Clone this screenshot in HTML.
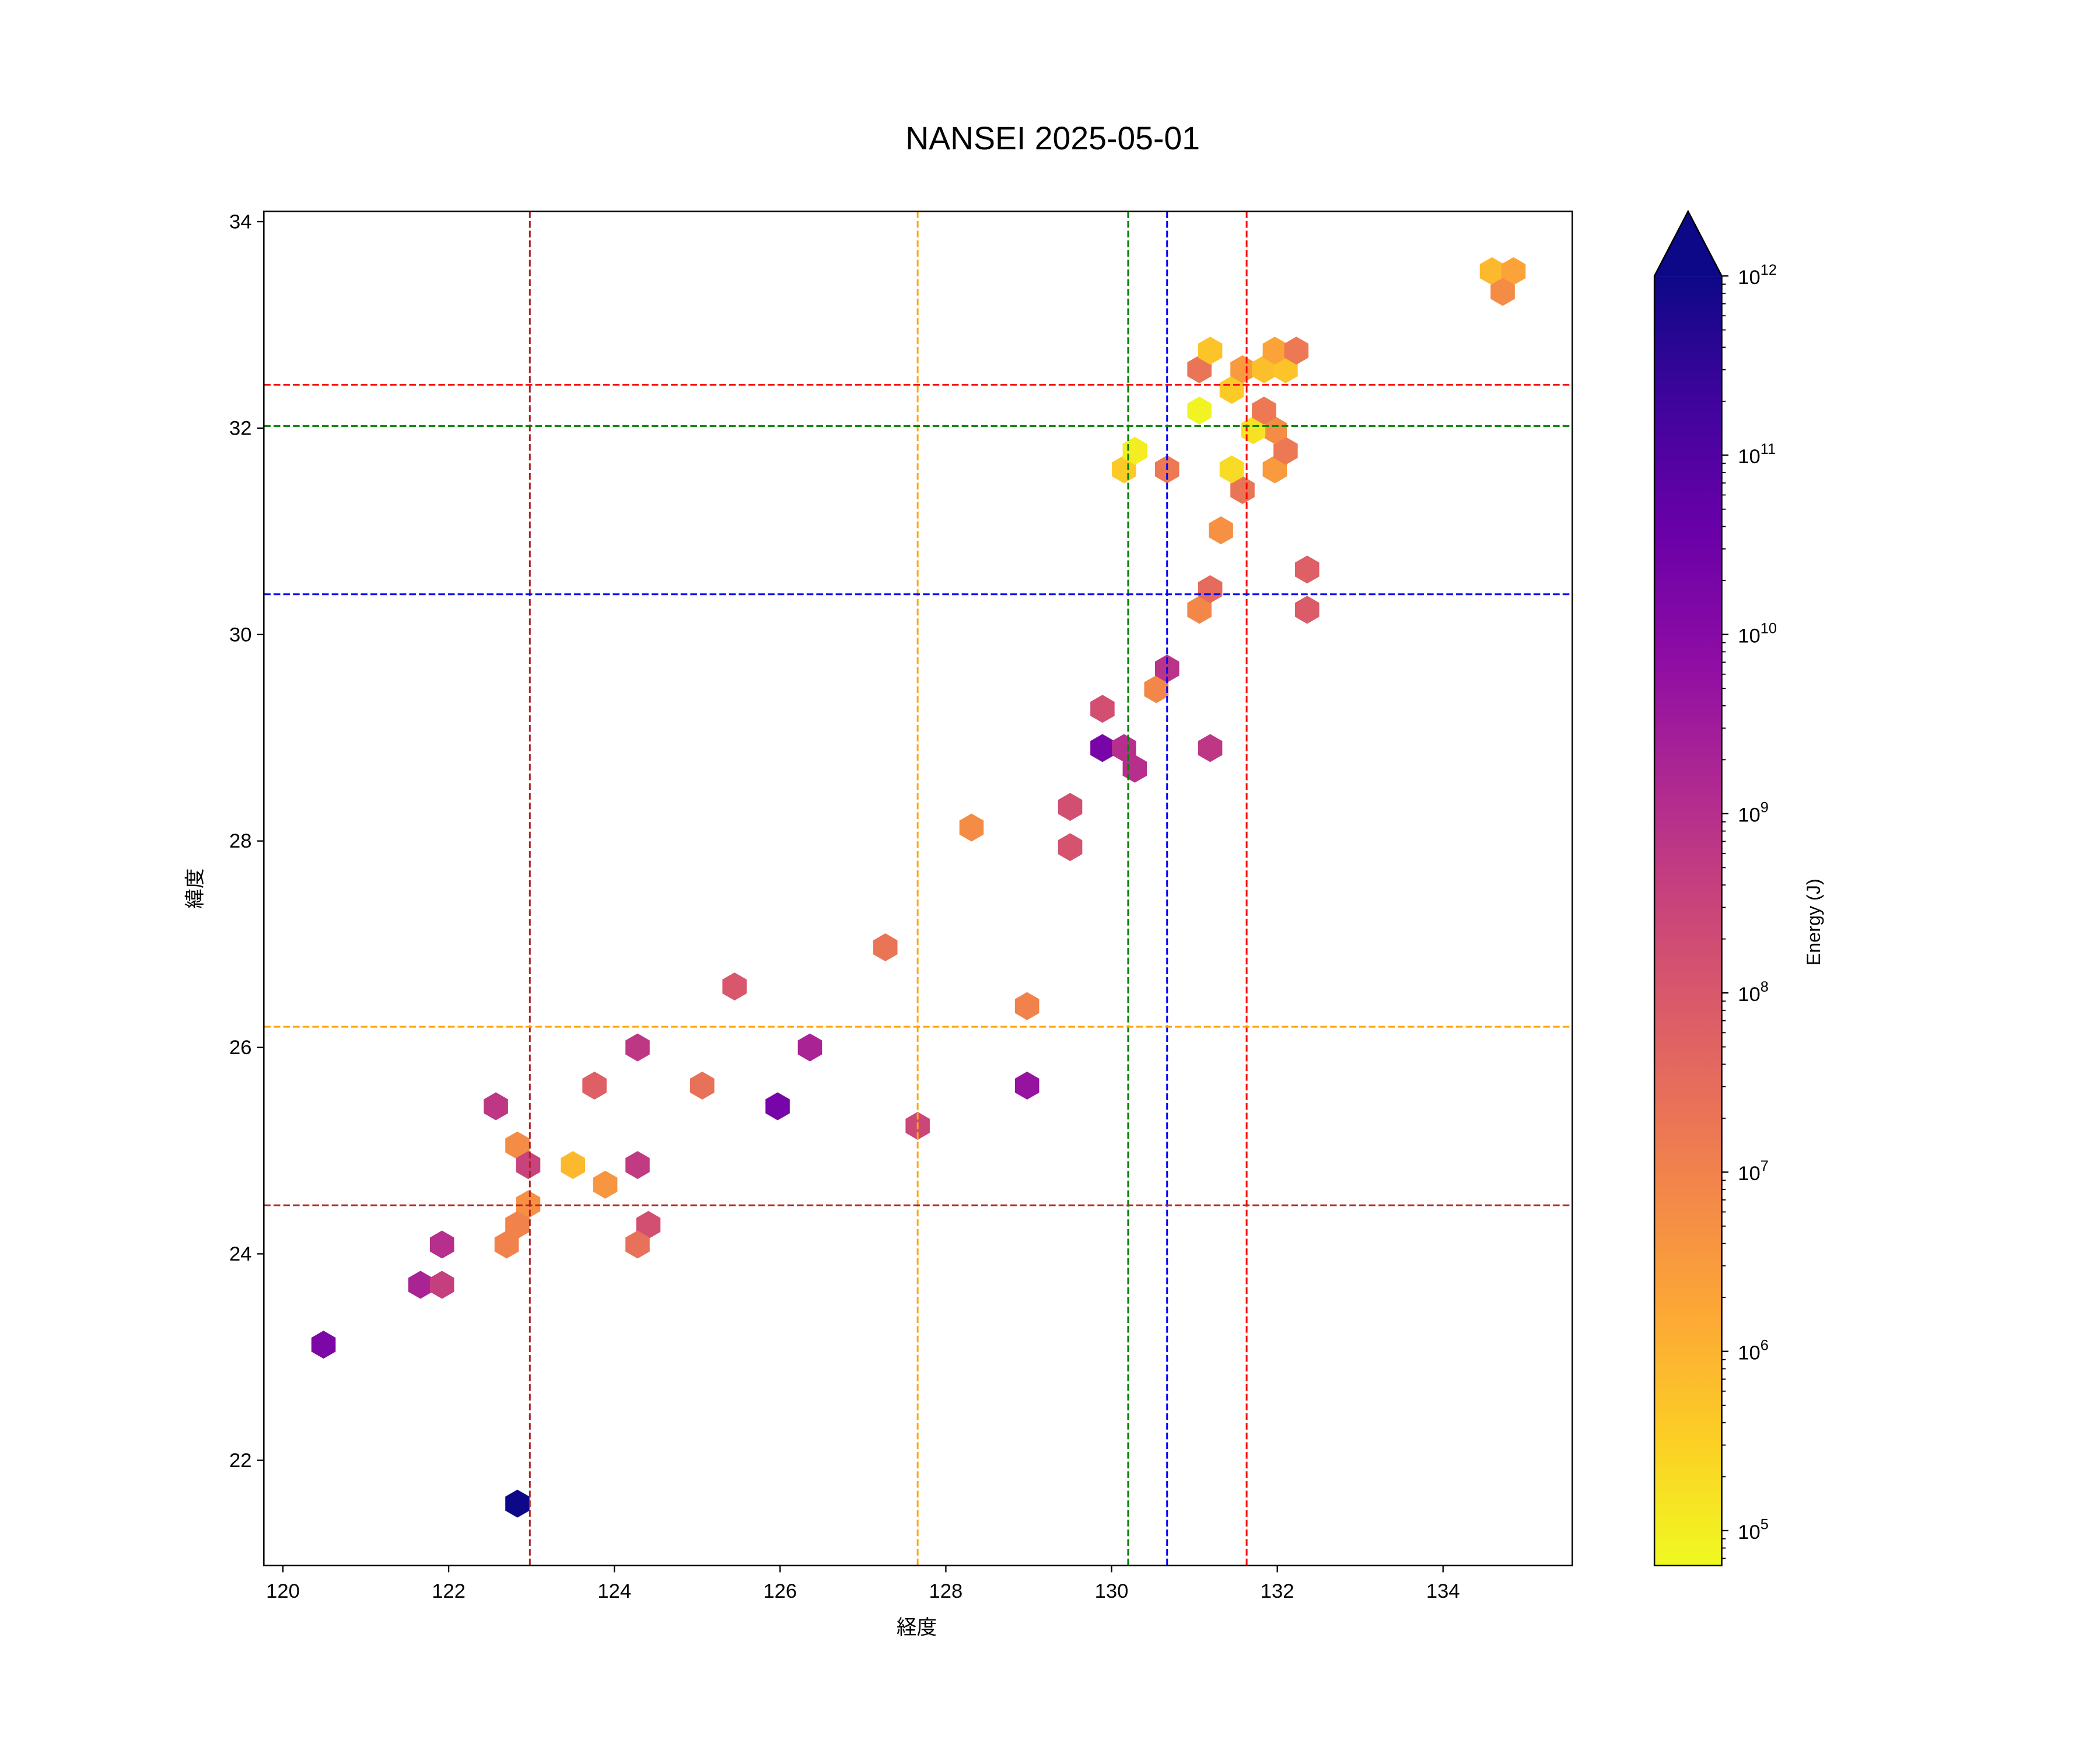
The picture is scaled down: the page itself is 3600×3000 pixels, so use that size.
<!DOCTYPE html>
<html><head><meta charset="utf-8">
<style>
html,body{margin:0;padding:0;background:#fff;}
svg{display:block;font-family:"Liberation Sans","Noto Sans CJK JP",sans-serif;}
</style></head>
<body>
<svg id="chart" width="3600" height="3000" viewBox="0 0 1560 1300" xmlns="http://www.w3.org/2000/svg">
<rect width="1560" height="1300" fill="#fff"/>
<text x="782" y="111" font-size="24" text-anchor="middle" fill="#000">NANSEI 2025-05-01</text>
<g id="plot"></g>
<g id="cbar"></g>
<text x="681" y="1214" font-size="15" text-anchor="middle">経度</text>
<text x="150" y="660" font-size="15" text-anchor="middle" transform="rotate(-90 150 660)">緯度</text>
<text x="1352" y="685" font-size="14" text-anchor="middle" transform="rotate(-90 1352 685)">Energy (J)</text>
</svg>
<script>
const lons=[120.49,121.66,121.92,121.92,122.83,122.57,122.83,122.96,122.96,122.83,122.70,123.50,123.89,123.76,124.28,124.28,124.41,124.28,125.06,125.45,125.97,126.36,127.27,127.66,128.31,128.98,128.98,129.50,129.50,129.89,129.89,130.15,130.28,130.54,130.67,131.19,131.06,131.19,132.36,132.36,131.32,131.58,130.15,130.28,130.67,131.45,131.97,132.10,131.97,131.71,131.84,131.06,131.45,131.58,131.84,132.10,131.06,131.19,131.97,132.23,134.59,134.85,134.72];
const lats=[23.12,23.70,23.70,24.09,21.58,25.43,25.05,24.86,24.48,24.28,24.09,24.86,24.67,25.63,26.00,24.86,24.28,24.09,25.63,26.59,25.43,26.00,26.97,25.24,28.13,26.40,25.63,28.33,27.94,29.28,28.90,28.90,28.70,29.47,29.67,28.90,30.24,30.44,30.63,30.24,31.01,31.40,31.60,31.78,31.60,31.60,31.60,31.78,31.98,31.98,32.17,32.17,32.37,32.57,32.57,32.57,32.57,32.75,32.75,32.75,33.52,33.52,33.32];
const logEnergy=[10.2,9.3,8.6,9.0,12.5,8.8,6.8,8.5,6.7,7.0,7.0,5.9,6.6,7.8,8.8,8.7,8.2,7.4,7.4,8.0,10.3,9.3,7.3,8.4,6.8,7.0,9.7,8.2,8.1,8.2,10.3,9.0,9.0,6.9,8.9,8.8,6.9,7.5,7.8,7.9,6.7,7.3,5.6,5.0,7.2,5.3,6.5,7.2,6.8,5.2,7.2,4.9,5.6,6.5,5.8,5.7,7.3,5.7,6.3,7.2,5.9,6.3,6.8];
const xTicks=[120,122,124,126,128,130,132,134];
const yTicks=[22,24,26,28,30,32,34];
const cbDecades=[5,6,7,8,9,10,11,12];
const vLines=[{v:122.98,c:"#b22222",n:"vline-darkred"},{v:127.66,c:"orange",n:"vline-orange"},{v:130.2,c:"green",n:"vline-green"},{v:130.67,c:"blue",n:"vline-blue"},{v:131.63,c:"red",n:"vline-red"}];
const hLines=[{v:32.42,c:"red",n:"hline-red"},{v:32.02,c:"green",n:"hline-green"},{v:30.39,c:"blue",n:"hline-blue"},{v:26.2,c:"orange",n:"hline-orange"},{v:24.47,c:"#b22222",n:"hline-darkred"}];

const NS="http://www.w3.org/2000/svg";
const L=196,R=1168,T=157,B=1163;
const XMIN=119.77,XMAX=135.56,YMIN=20.98,YMAX=34.10;
const sx=v=>L+(v-XMIN)/(XMAX-XMIN)*(R-L);
const sy=v=>B-(v-YMIN)/(YMAX-YMIN)*(B-T);
const CMIN=4.805,CMAX=12;
const CT=205,CB=1163,CL=1229,CR=1279;
const cy=v=>CB-(v-CMIN)/(CMAX-CMIN)*(CB-CT);
const plasma=["#0d0887","#41049d","#6a00a8","#8f0da4","#b12a90","#cc4778","#e16462","#f2844b","#fca636","#fcce25","#f0f921"];
function hex2rgb(h){return [1,3,5].map(i=>parseInt(h.substr(i,2),16));}
function cmap(t){t=Math.max(0,Math.min(1,t));const p=t*10,i=Math.min(9,Math.floor(p)),f=p-i;
 const a=hex2rgb(plasma[i]),b=hex2rgb(plasma[i+1]);return "rgb("+a.map((x,k)=>Math.round(x+(b[k]-x)*f)).join(",")+")";}
const colorOf=e=>cmap(1-(e-CMIN)/(CMAX-CMIN));
function mk(tag,attrs,parent){const el=document.createElementNS(NS,tag);for(const k in attrs)el.setAttribute(k,attrs[k]);parent.appendChild(el);return el;}

const plot=document.getElementById('plot');
const frame=mk('rect',{x:L,y:T,width:R-L,height:B-T,fill:'#fff'},plot);


const hr=10.4;
lons.forEach((lo,i)=>{
 const cx=sx(lo),cyy=sy(lats[i]);const pts=[];
 for(let k=0;k<6;k++){const a=Math.PI/3*k+Math.PI/2;pts.push((cx+hr*Math.cos(a)).toFixed(2)+","+(cyy+hr*Math.sin(a)).toFixed(2));}
 const h=mk('polygon',{points:pts.join(" "),fill:colorOf(logEnergy[i])},plot);
 
 
});
vLines.forEach(l=>{const x=sx(l.v);const e=mk('line',{x1:x,x2:x,y1:T,y2:B,stroke:l.c,'stroke-width':1.3,'stroke-dasharray':'5,2.2'},plot);
 
 });
hLines.forEach(l=>{const y=sy(l.v);const e=mk('line',{x1:L,x2:R,y1:y,y2:y,stroke:l.c,'stroke-width':1.3,'stroke-dasharray':'5,2.2'},plot);
 
 });
const border=mk('rect',{x:L,y:T,width:R-L,height:B-T,fill:'none',stroke:'#000','stroke-width':1.1},plot);


xTicks.forEach(v=>{const x=sx(v);mk('line',{x1:x,x2:x,y1:B,y2:B+5,stroke:'#000','stroke-width':1},plot);
 const t=mk('text',{x:x,y:B+24,'font-size':15,'text-anchor':'middle'},plot);t.textContent=v;
 
 });
yTicks.forEach(v=>{const y=sy(v);mk('line',{x1:L,x2:L-5,y1:y,y2:y,stroke:'#000','stroke-width':1},plot);
 const t=mk('text',{x:L-9,y:y+5,'font-size':15,'text-anchor':'end'},plot);t.textContent=v;
 
 });

const cb=document.getElementById('cbar');
const defs=mk('defs',{},cb);
const g=mk('linearGradient',{id:'cg',x1:0,y1:1,x2:0,y2:0},defs);
for(let k=0;k<=20;k++){mk('stop',{offset:k/20,'stop-color':cmap(1-k/20)},g);}
const body=mk('rect',{x:CL,y:CT,width:CR-CL,height:CB-CT,fill:'url(#cg)'},cb);


const tip=(CL+CR)/2;
const arrow=mk('polygon',{points:`${CL},${CT} ${tip},157 ${CR},${CT}`,fill:cmap(0)},cb);


mk('polygon',{points:`${CL},${CB} ${CL},${CT} ${tip},157 ${CR},${CT} ${CR},${CB}`,fill:'none',stroke:'#000','stroke-width':1.1},cb);
cbDecades.forEach(d=>{const y=cy(d);mk('line',{x1:CR,x2:CR+5,y1:y,y2:y,stroke:'#000','stroke-width':1},cb);
 const t=mk('text',{x:CR+12,y:y+6,'font-size':15},cb);
 
 
 t.appendChild(document.createTextNode('10'));
 const s=mk('tspan',{dy:-7,'font-size':11},t);s.textContent=d;
 for(let m=2;m<=9;m++){const lv=d-1+Math.log10(m);if(lv<CMIN)continue;const yy=cy(lv);
  mk('line',{x1:CR,x2:CR+3,y1:yy,y2:yy,stroke:'#000','stroke-width':0.8},cb);}
});
</script>
</body></html>
